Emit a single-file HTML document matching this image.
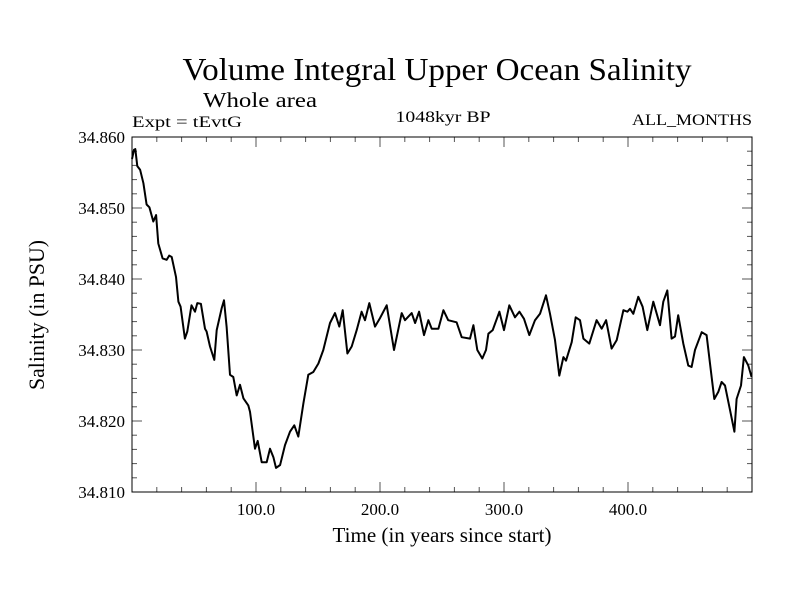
<!DOCTYPE html>
<html><head><meta charset="utf-8"><style>
html,body{margin:0;padding:0;background:#fff}
svg{display:block;font-family:"Liberation Serif",serif}
</style></head><body>
<svg id="chart" width="800" height="600" viewBox="0 0 800 600">
<text x="437" y="80" font-size="32" text-anchor="middle" textLength="509" lengthAdjust="spacingAndGlyphs">Volume Integral Upper Ocean Salinity</text>
<text x="203" y="107" font-size="21" textLength="114" lengthAdjust="spacingAndGlyphs">Whole area</text>
<text x="132" y="127" font-size="16" textLength="110" lengthAdjust="spacingAndGlyphs">Expt = tEvtG</text>
<text x="443" y="122" font-size="16" text-anchor="middle" textLength="95" lengthAdjust="spacingAndGlyphs">1048kyr BP</text>
<text x="752" y="125" font-size="16" text-anchor="end" textLength="120" lengthAdjust="spacingAndGlyphs">ALL_MONTHS</text>
<text x="442" y="542" font-size="21" text-anchor="middle" textLength="219" lengthAdjust="spacingAndGlyphs">Time (in years since start)</text>
<text transform="translate(44,315) rotate(-90)" font-size="22" text-anchor="middle" textLength="150" lengthAdjust="spacingAndGlyphs">Salinity (in PSU)</text>
<g id="axes"></g>
<path id="line" fill="none" stroke="#000" stroke-width="2" stroke-linejoin="round"/>
<rect x="132" y="137" width="620" height="355" fill="none" stroke="#000" stroke-width="1"/>
</svg>
<script>
const years=[0,1.6,2.7,4.3,6.5,9.2,11.8,14,17.2,19.4,21.2,24.7,28,30,32,35.5,37.4,39.2,42.7,44.6,48,50.8,52.7,55.6,58.9,60.2,62.9,66.4,68.3,72.3,74.2,76.3,79,81.7,84.4,87.1,89.8,93.8,95.2,99.2,101.4,104.6,108.6,111.3,114,116.1,119.4,123.4,127.4,130.9,134.1,138.2,142.2,146.2,150.3,154.3,159.7,163.7,167.2,169.9,173.7,177.2,181.2,185.2,187.9,191.4,196,200,205.4,211.3,217.5,220.2,225.6,228.3,231.5,235.5,239,241.7,247.1,251.1,255,261.8,265.9,272.6,275.3,278.5,282.5,285.5,287.4,290.9,296.3,300,304.3,308.9,312.4,316.1,320.4,325,329,333.9,337.1,341.1,344.6,347.9,350,354.6,357.8,361.3,364,368.8,374.7,378.8,382.3,386.8,390.9,396.3,399.5,401.6,404.3,408.3,411.8,415.6,420.4,425.8,428.5,431.7,435.2,437.9,440.5,444.6,448.6,451.3,454,459.4,463.4,466.1,469.6,472.8,475.5,478.2,482.3,485.8,487.6,491.1,493.5,497,499.7];
const salinity=[34.8569,34.8582,34.8583,34.8559,34.8554,34.8535,34.8505,34.8501,34.8481,34.8490,34.8450,34.8429,34.8427,34.8433,34.8431,34.8403,34.8368,34.8361,34.8316,34.8326,34.8363,34.8354,34.8366,34.8365,34.8330,34.8326,34.8305,34.8286,34.8328,34.8359,34.8370,34.8333,34.8265,34.8262,34.8236,34.8251,34.8232,34.8222,34.8213,34.8161,34.8172,34.8142,34.8142,34.8161,34.8149,34.8134,34.8138,34.8166,34.8185,34.8194,34.8178,34.8225,34.8265,34.8269,34.8281,34.8300,34.8338,34.8352,34.8333,34.8356,34.8295,34.8305,34.8328,34.8354,34.8342,34.8366,34.8333,34.8345,34.8363,34.8300,34.8352,34.8342,34.8352,34.8338,34.8354,34.8321,34.8342,34.8330,34.8330,34.8356,34.8342,34.8339,34.8318,34.8316,34.8335,34.8300,34.8288,34.8300,34.8323,34.8328,34.8354,34.8328,34.8363,34.8346,34.8354,34.8344,34.8321,34.8342,34.8351,34.8377,34.8351,34.8314,34.8264,34.8290,34.8285,34.8311,34.8346,34.8342,34.8316,34.8309,34.8342,34.8330,34.8342,34.8302,34.8314,34.8356,34.8354,34.8358,34.8351,34.8375,34.8361,34.8328,34.8368,34.8335,34.8368,34.8384,34.8316,34.8319,34.8349,34.8309,34.8278,34.8276,34.8300,34.8325,34.8321,34.8281,34.8231,34.8241,34.8255,34.8250,34.8215,34.8185,34.8231,34.8250,34.8290,34.8278,34.8262];
const xTickLabels=["100.0","200.0","300.0","400.0"];
const yTickLabels=["34.810","34.820","34.830","34.840","34.850","34.860"];
const X0=132,X1=752,Y0=492,Y1=137,xmin=0,xmax=500,ymin=34.81,ymax=34.86;
const sx=v=>X0+(v-xmin)/(xmax-xmin)*(X1-X0);
const sy=v=>Y0-(v-ymin)/(ymax-ymin)*(Y0-Y1);
const NS="http://www.w3.org/2000/svg";
const ax=document.getElementById('axes');
function ln(x1,y1,x2,y2,name){const l=document.createElementNS(NS,'line');l.setAttribute('x1',x1);l.setAttribute('y1',y1);l.setAttribute('x2',x2);l.setAttribute('y2',y2);l.setAttribute('stroke','#555');l.setAttribute('stroke-width','1');


ax.appendChild(l);}
for(let v=20;v<500;v+=20){const x=sx(v),maj=v%100===0,len=maj?10:5;ln(x,Y0,x,Y0-len,'x-tick');ln(x,Y1,x,Y1+len,'x-tick');}
for(let i=0;i<=25;i++){const v=ymin+i*0.002,y=sy(v),maj=i%5===0,len=maj?10:5;ln(X0,y,X0+len,y,'y-tick');ln(X1,y,X1-len,y,'y-tick');}
xTickLabels.forEach(s=>{const t=document.createElementNS(NS,'text');t.setAttribute('x',sx(parseFloat(s)));t.setAttribute('y',515);t.setAttribute('font-size','17');t.setAttribute('text-anchor','middle');t.textContent=s;


ax.appendChild(t);});
yTickLabels.forEach(s=>{const t=document.createElementNS(NS,'text');t.setAttribute('x',125);t.setAttribute('y',sy(parseFloat(s))+6);t.setAttribute('font-size','17');t.setAttribute('text-anchor','end');t.textContent=s;


ax.appendChild(t);});
document.getElementById('line').setAttribute('d',years.map((y,i)=>(i?'L':'M')+sx(y).toFixed(1)+','+sy(salinity[i]).toFixed(1)).join(''));
</script>
</body></html>
